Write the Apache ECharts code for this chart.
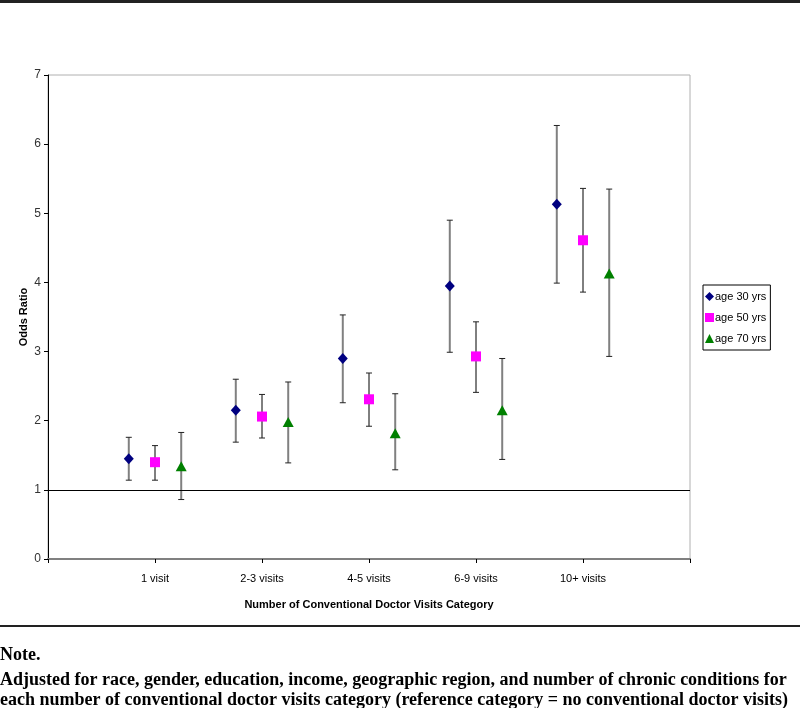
<!DOCTYPE html>
<html>
<head>
<meta charset="utf-8">
<script src="https://cdn.jsdelivr.net/npm/echarts@6/dist/echarts.min.js"></script>
<style>
html,body{margin:0;padding:0;background:#fff;}
#chart{width:800px;height:708px;}
</style>
</head>
<body>
<div id="chart"></div>
<script>
// ---- data ----
const categories = ['1 visit', '2-3 visits', '4-5 visits', '6-9 visits', '10+ visits'];
const seriesNames = ['age 30 yrs', 'age 50 yrs', 'age 70 yrs'];
const or30 = [1.45, 2.15, 2.90, 3.95, 5.13];
const or30Low = [1.14, 1.69, 2.26, 2.99, 3.99];
const or30High = [1.76, 2.60, 3.53, 4.90, 6.27];
const or50 = [1.40, 2.06, 2.31, 2.93, 4.61];
const or50Low = [1.14, 1.75, 1.92, 2.41, 3.86];
const or50High = [1.64, 2.38, 2.69, 3.43, 5.36];
const or70 = [1.34, 1.98, 1.82, 2.15, 4.13];
const or70Low = [0.86, 1.39, 1.29, 1.44, 2.93];
const or70High = [1.83, 2.56, 2.39, 2.90, 5.35];
const yTicks = [0, 1, 2, 3, 4, 5, 6, 7];
const referenceValue = 1;
const noteTitle = 'Note.';
const noteLines = [
  'Adjusted for race, gender, education, income, geographic region, and number of chronic conditions for',
  'each number of conventional doctor visits category (reference category = no conventional doctor visits)'
];

// ---- build ----
const offsets = [-0.245, 0, 0.245];
const symbols = ['diamond', 'rect', 'triangle'];
const colors = ['#000080', '#FF00FF', '#008000'];
const symbolSizes = [[10, 11], [10, 10], [11, 10]];
const stemColors = ['#808080', '#000000', '#808080'];
const stemWidths = [2, 1, 2];
const vals = [or30, or50, or70];
const lows = [or30Low, or50Low, or70Low];
const highs = [or30High, or50High, or70High];

const series = [];
seriesNames.forEach((name, s) => {
  const errData = categories.map((c, i) => [i + 1 + offsets[s], lows[s][i], highs[s][i]]);
  series.push({
    type: 'custom',
    name: name + ' CI',
    silent: true,
    z: 2,
    data: errData,
    renderItem: function (params, api) {
      const x = api.value(0);
      const pl = api.coord([x, api.value(1)]);
      const ph = api.coord([x, api.value(2)]);
      const hw = 3;
      return {
        type: 'group',
        children: [
          { type: 'line', shape: { x1: pl[0], y1: pl[1], x2: ph[0], y2: ph[1] }, style: { stroke: stemColors[s], lineWidth: stemWidths[s] } },
          { type: 'line', shape: { x1: pl[0] - hw, y1: pl[1], x2: pl[0] + hw, y2: pl[1] }, style: { stroke: '#222', lineWidth: 1 } },
          { type: 'line', shape: { x1: ph[0] - hw, y1: ph[1], x2: ph[0] + hw, y2: ph[1] }, style: { stroke: '#222', lineWidth: 1 } }
        ]
      };
    }
  });
});
seriesNames.forEach((name, s) => {
  series.push({
    type: 'scatter',
    name: name,
    symbol: symbols[s],
    symbolSize: symbolSizes[s],
    itemStyle: { color: colors[s], opacity: 1 },
    z: 5,
    data: categories.map((c, i) => [i + 1 + offsets[s], vals[s][i]]),
    markLine: s === 0 ? {
      silent: true,
      symbol: 'none',
      label: { show: false },
      lineStyle: { color: '#000', width: 1, type: 'solid' },
      data: [{ yAxis: referenceValue }]
    } : undefined
  });
});

const chart = echarts.init(document.getElementById('chart'), null, { renderer: 'canvas' });
chart.setOption({
  animation: false,
  backgroundColor: '#fff',
  grid: {
    left: 48, right: 110, top: 75, bottom: 149,
    show: true, borderColor: '#b0b0b0', borderWidth: 1, backgroundColor: 'transparent'
  },
  legend: {
    data: seriesNames.map((n, s) => ({ name: n, icon: s === 0 ? 'diamond' : (s === 1 ? 'rect' : 'triangle') })),
    orient: 'vertical',
    left: 703, top: 285,
    itemWidth: 9, itemHeight: 9,
    itemGap: 10,
    padding: [6, 4, 6, 2],
    borderColor: '#000', borderWidth: 1,
    textStyle: { fontFamily: 'Liberation Sans, Arial, sans-serif', fontSize: 11, color: '#000', padding: [0, 0, 0, -4] }
  },
  xAxis: {
    type: 'value',
    min: 0, max: categories.length + 1, interval: 1,
    name: 'Number of Conventional Doctor Visits Category',
    nameLocation: 'middle',
    nameGap: 40,
    nameTextStyle: { fontFamily: 'Liberation Sans, Arial, sans-serif', fontWeight: 'bold', fontSize: 11, color: '#000' },
    axisLine: { lineStyle: { color: '#808080', width: 2 } },
    axisTick: { show: true, length: 4, lineStyle: { color: '#000' } },
    splitLine: { show: false },
    axisLabel: {
      margin: 14,
      fontFamily: 'Liberation Sans, Arial, sans-serif', fontSize: 11, color: '#000',
      formatter: function (v) { const i = Math.round(v) - 1; return categories[i] || ''; }
    }
  },
  yAxis: {
    type: 'value',
    min: 0, max: 7, interval: 1,
    name: 'Odds Ratio',
    nameLocation: 'middle',
    nameGap: 19,
    nameMoveOverlap: false,
    nameTextStyle: { fontFamily: 'Liberation Sans, Arial, sans-serif', fontWeight: 'bold', fontSize: 11, color: '#000' },
    axisLine: { show: true, lineStyle: { color: '#000', width: 1 } },
    axisTick: { show: true, length: 4, lineStyle: { color: '#000' } },
    splitLine: { show: false },
    axisLabel: {
      margin: 7,
      fontFamily: 'Liberation Sans, Arial, sans-serif', fontSize: 12, color: '#333',
      formatter: function (v) { return yTicks.indexOf(v) >= 0 ? String(v) : ''; }
    }
  },
  graphic: [
    { type: 'rect', left: 0, top: 0, shape: { width: 800, height: 3 }, style: { fill: '#222' } },
    { type: 'rect', left: 0, top: 625, shape: { width: 800, height: 2 }, style: { fill: '#222' } },
    { type: 'text', left: 0, top: 646, style: { text: noteTitle, font: 'bold 18px "Liberation Serif", "Times New Roman", serif', fill: '#000' } },
    { type: 'text', left: 0, top: 671, style: { text: noteLines[0], font: 'bold 18px "Liberation Serif", "Times New Roman", serif', fill: '#000' } },
    { type: 'text', left: 0, top: 691, style: { text: noteLines[1], font: 'bold 18px "Liberation Serif", "Times New Roman", serif', fill: '#000' } }
  ],
  series: series
});
</script>
</body>
</html>
